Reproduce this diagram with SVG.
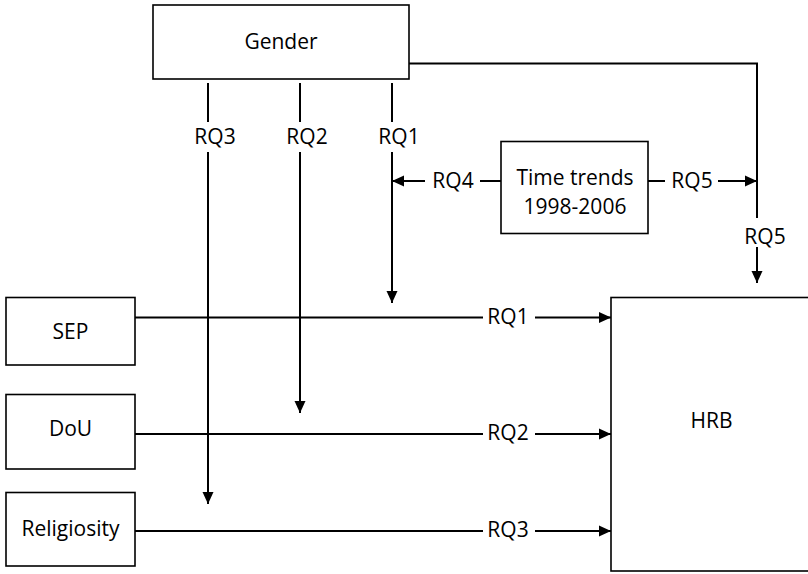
<svg xmlns="http://www.w3.org/2000/svg" width="808" height="574" viewBox="0 0 808 574">
<style>
  .box { fill: #fff; stroke: #000; stroke-width: 1.6; }
  .ln { fill: none; stroke: #000; stroke-width: 2; }
  .t { font-family: "Open Sans", "Liberation Sans", sans-serif; font-size: 21px; fill: #000; text-anchor: middle; }
</style>
<defs>
  <marker id="ah" markerUnits="userSpaceOnUse" markerWidth="12" markerHeight="12" viewBox="0 0 12 12" refX="12" refY="6" orient="auto">
    <path d="M0,0.5 L12,6 L0,11.5 z" fill="#000"/>
  </marker>
</defs>
<rect width="808" height="574" fill="#fff"/>
<g id="connectors">
  <line class="ln" x1="208" y1="83" x2="208" y2="122"/>
  <line class="ln" x1="208" y1="152" x2="208" y2="504" marker-end="url(#ah)"/>
  <line class="ln" x1="300" y1="83" x2="300" y2="122"/>
  <line class="ln" x1="300" y1="152" x2="300" y2="413" marker-end="url(#ah)"/>
  <line class="ln" x1="392" y1="83" x2="392" y2="122"/>
  <line class="ln" x1="392" y1="152" x2="392" y2="303" marker-end="url(#ah)"/>
  <text class="t" x="215" y="144">RQ3</text>
  <text class="t" x="307" y="144">RQ2</text>
  <text class="t" x="399" y="144">RQ1</text>
  <line class="ln" x1="501" y1="181" x2="480" y2="181"/>
  <line class="ln" x1="425" y1="181" x2="392" y2="181" marker-end="url(#ah)"/>
  <text class="t" x="453" y="188">RQ4</text>
  <line class="ln" x1="648" y1="181" x2="665" y2="181"/>
  <line class="ln" x1="718" y1="181" x2="757" y2="181" marker-end="url(#ah)"/>
  <text class="t" x="692" y="188">RQ5</text>
  <polyline class="ln" points="409,63.5 757,63.5 757,218"/>
  <line class="ln" x1="757" y1="247" x2="757" y2="283" marker-end="url(#ah)"/>
  <text class="t" x="765" y="244">RQ5</text>
  <line class="ln" x1="135" y1="317.5" x2="483" y2="317.5"/>
  <line class="ln" x1="535" y1="317.5" x2="611" y2="317.5" marker-end="url(#ah)"/>
  <text class="t" x="508" y="324">RQ1</text>
  <line class="ln" x1="135" y1="434" x2="483" y2="434"/>
  <line class="ln" x1="535" y1="434" x2="611" y2="434" marker-end="url(#ah)"/>
  <text class="t" x="508" y="440">RQ2</text>
  <line class="ln" x1="135" y1="531" x2="483" y2="531"/>
  <line class="ln" x1="535" y1="531" x2="611" y2="531" marker-end="url(#ah)"/>
  <text class="t" x="508" y="537">RQ3</text>
</g>
<g id="gender">
  <rect class="box" x="153" y="5" width="256" height="74"/>
  <text class="t" x="281" y="49">Gender</text>
</g>
<g id="time-trends">
  <rect class="box" x="501" y="141.5" width="147" height="92"/>
  <text class="t" x="575" y="185">Time trends</text>
  <text class="t" x="575" y="214">1998-2006</text>
</g>
<g id="sep">
  <rect class="box" x="6" y="297.5" width="129" height="67.5"/>
  <text class="t" x="70.5" y="339">SEP</text>
</g>
<g id="dou">
  <rect class="box" x="6" y="394.5" width="129" height="74.5"/>
  <text class="t" x="70.5" y="436">DoU</text>
</g>
<g id="religiosity">
  <rect class="box" x="6" y="492.5" width="129" height="73.5"/>
  <text class="t" x="70.5" y="536">Religiosity</text>
</g>
<g id="hrb">
  <rect class="box" x="611" y="297.5" width="201" height="273.5"/>
  <text class="t" x="711.5" y="428">HRB</text>
</g>
</svg>
